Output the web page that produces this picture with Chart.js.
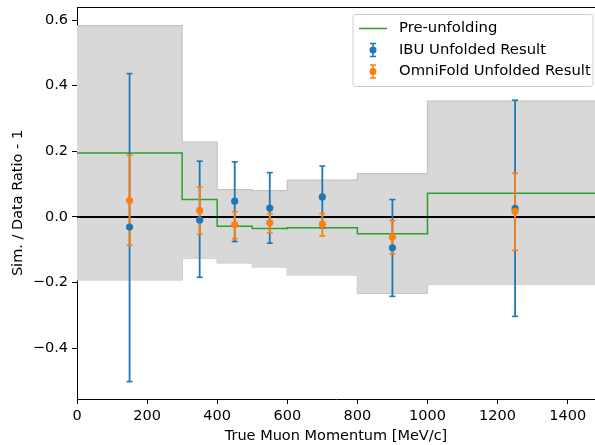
<!DOCTYPE html>
<html>
<head>
<meta charset="utf-8">
<script src="https://cdn.jsdelivr.net/npm/chart.js@4.4.0/dist/chart.umd.min.js"></script>
<style>
  html, body { margin: 0; padding: 0; background: #fff; }
  #c { display: block; }
</style>
</head>
<body>
<canvas id="c" width="595" height="445"></canvas>
<script>
// ---- data ----
const binEdges = [0, 300, 400, 500, 600, 800, 1000, 1500];
const binCenters = [150, 350, 450, 550, 700, 900, 1250];
const bandUpper = [0.583, 0.228, 0.083, 0.080, 0.112, 0.132, 0.353];
const bandLower = [-0.192, -0.126, -0.140, -0.152, -0.177, -0.233, -0.205];
const preUnfolding = [0.195, 0.053, -0.028, -0.035, -0.033, -0.051, 0.072];
const ibuValues = [-0.031, -0.009, 0.048, 0.027, 0.061, -0.094, 0.026];
const ibuHigh = [0.437, 0.170, 0.168, 0.135, 0.155, 0.053, 0.356];
const ibuLow = [-0.502, -0.184, -0.075, -0.080, -0.033, -0.242, -0.303];
const omniValues = [0.050, 0.020, -0.023, -0.018, -0.022, -0.061, 0.017];
const omniHigh = [0.188, 0.091, 0.016, 0.010, 0.010, -0.011, 0.133];
const omniLow = [-0.086, -0.052, -0.066, -0.048, -0.058, -0.112, -0.102];
const xTicks = [0, 200, 400, 600, 800, 1000, 1200, 1400];
const yTicks = [-0.4, -0.2, 0.0, 0.2, 0.4, 0.6];
const legendLabels = ['Pre-unfolding', 'IBU Unfolded Result', 'OmniFold Unfolded Result'];
const xTitle = 'True Muon Momentum [MeV/c]';
const yTitle = 'Sim. / Data Ratio - 1';

// ---- helpers ----
const BLUE = '#1f77b4', ORANGE = '#ff7f0e', GREEN = '#2ca02c';
function stepData(vals) {
  const d = vals.map((v, i) => ({ x: binEdges[i], y: v }));
  d.push({ x: binEdges[binEdges.length - 1], y: vals[vals.length - 1] });
  return d;
}
function errData(lo, hi) {
  const d = [];
  binCenters.forEach((x, i) => {
    d.push({ x: x, y: lo[i] });
    d.push({ x: x, y: hi[i] });
    d.push({ x: x, y: null });
  });
  return d;
}
function pts(vals) { return vals.map((v, i) => ({ x: binCenters[i], y: v })); }
function zeroPad(s) { s.paddingTop = 0; s.paddingBottom = 0; s.paddingLeft = 0; s.paddingRight = 0; }

const FONT = 'DejaVu Sans';
const FS = 14.5;
Chart.defaults.font.family = FONT;
Chart.defaults.font.size = FS;
Chart.defaults.color = '#000';

const extrasPlugin = {
  id: 'extras',
  afterDraw(chart) {
    const ctx = chart.ctx, a = chart.chartArea;
    ctx.save();
    // top spine
    ctx.strokeStyle = '#000'; ctx.lineWidth = 1;
    ctx.beginPath(); ctx.moveTo(a.left, a.top + 0.5); ctx.lineTo(a.right, a.top + 0.5); ctx.stroke();
    // legend
    const bx = 353, by = 14.5, bw = 240, bh = 72, r = 3;
    ctx.globalAlpha = 0.8;
    ctx.fillStyle = '#fff';
    ctx.beginPath();
    ctx.roundRect(bx, by, bw, bh, r);
    ctx.fill();
    ctx.globalAlpha = 1;
    ctx.strokeStyle = '#cccccc'; ctx.lineWidth = 1;
    ctx.stroke();
    const rows = [28.5, 50, 71.5];
    const hx0 = 359, hx1 = 387, hc = 373;
    ctx.strokeStyle = GREEN; ctx.lineWidth = 1.5;
    ctx.beginPath(); ctx.moveTo(hx0, rows[0]); ctx.lineTo(hx1, rows[0]); ctx.stroke();
    [[BLUE, rows[1]], [ORANGE, rows[2]]].forEach(([c, y]) => {
      ctx.strokeStyle = c; ctx.fillStyle = c; ctx.lineWidth = 1.5;
      ctx.beginPath();
      ctx.moveTo(hc, y - 6.5); ctx.lineTo(hc, y + 6.5);
      ctx.moveTo(hc - 3, y - 6.5); ctx.lineTo(hc + 3, y - 6.5);
      ctx.moveTo(hc - 3, y + 6.5); ctx.lineTo(hc + 3, y + 6.5);
      ctx.stroke();
      ctx.beginPath(); ctx.arc(hc, y, 3.5, 0, Math.PI * 2); ctx.fill();
    });
    ctx.fillStyle = '#000';
    ctx.font = '14.8px "' + FONT + '"';
    ctx.textBaseline = 'middle';
    ctx.textAlign = 'left';
    legendLabels.forEach((t, i) => ctx.fillText(t, 399, rows[i]));
    ctx.restore();
  }
};

new Chart(document.getElementById('c'), {
  type: 'scatter',
  data: {
    datasets: [
      { data: stepData(bandUpper), showLine: true, stepped: 'before', fill: '+1',
        backgroundColor: '#d8d8d8', borderColor: '#c3c3c3', borderWidth: 1.2,
        pointRadius: 0, order: 10 },
      { data: stepData(bandLower), showLine: true, stepped: 'before', fill: false,
        borderColor: '#c3c3c3', borderWidth: 1.2, pointRadius: 0, order: 10 },
      { data: stepData(preUnfolding), showLine: true, stepped: 'before', fill: false,
        borderColor: GREEN, borderWidth: 1.5, pointRadius: 0, order: 8 },
      { data: [{ x: binEdges[0], y: 0 }, { x: binEdges[binEdges.length - 1], y: 0 }],
        showLine: true, fill: false, borderColor: '#000', borderWidth: 2, pointRadius: 0, order: 7 },
      { data: errData(ibuLow, ibuHigh), showLine: true, spanGaps: false, fill: false,
        borderColor: BLUE, borderWidth: 1.8, pointStyle: 'line', pointRadius: 3,
        pointBorderColor: BLUE, pointBorderWidth: 1.6, order: 6 },
      { data: errData(omniLow, omniHigh), showLine: true, spanGaps: false, fill: false,
        borderColor: ORANGE, borderWidth: 1.8, pointStyle: 'line', pointRadius: 3,
        pointBorderColor: ORANGE, pointBorderWidth: 1.6, order: 5 },
      { data: pts(ibuValues), showLine: false, pointStyle: 'circle', pointRadius: 3.6,
        backgroundColor: BLUE, borderColor: BLUE, borderWidth: 0, order: 4 },
      { data: pts(omniValues), showLine: false, pointStyle: 'circle', pointRadius: 3.6,
        backgroundColor: ORANGE, borderColor: ORANGE, borderWidth: 0, order: 3 }
    ]
  },
  options: {
    responsive: false,
    animation: false,
    devicePixelRatio: 1,
    layout: { padding: { top: 7, right: 0, left: 0, bottom: 0 }, autoPadding: false },
    plugins: { legend: { display: false }, tooltip: { enabled: false } },
    scales: {
      x: {
        type: 'linear', min: 0, max: 1478,
        afterFit(s) { s.height = 46; zeroPad(s); },
        afterBuildTicks(s) { s.ticks = xTicks.map(v => ({ value: v })); },
        ticks: { autoSkip: false, maxRotation: 0, padding: 4, font: { size: FS },
                 callback: v => String(v) },
        grid: { drawOnChartArea: false, drawTicks: true, tickLength: 5, color: '#000', tickWidth: 1 },
        border: { display: true, color: '#000', width: 1 },
        title: { display: true, text: xTitle, font: { size: FS }, padding: { top: 0, bottom: 0 } }
      },
      y: {
        type: 'linear', min: -0.555, max: 0.64,
        afterFit(s) { s.width = 77; zeroPad(s); },
        afterBuildTicks(s) { s.ticks = yTicks.map(v => ({ value: v })); },
        ticks: { autoSkip: false, padding: 4, font: { size: FS },
                 callback: v => v.toFixed(1).replace('-', '\u2212') },
        grid: { drawOnChartArea: false, drawTicks: true, tickLength: 5, color: '#000', tickWidth: 1 },
        border: { display: true, color: '#000', width: 1 },
        title: { display: true, text: yTitle, font: { size: FS }, padding: { top: 10, bottom: 0 } }
      }
    }
  },
  plugins: [extrasPlugin]
});
</script>
</body>
</html>
